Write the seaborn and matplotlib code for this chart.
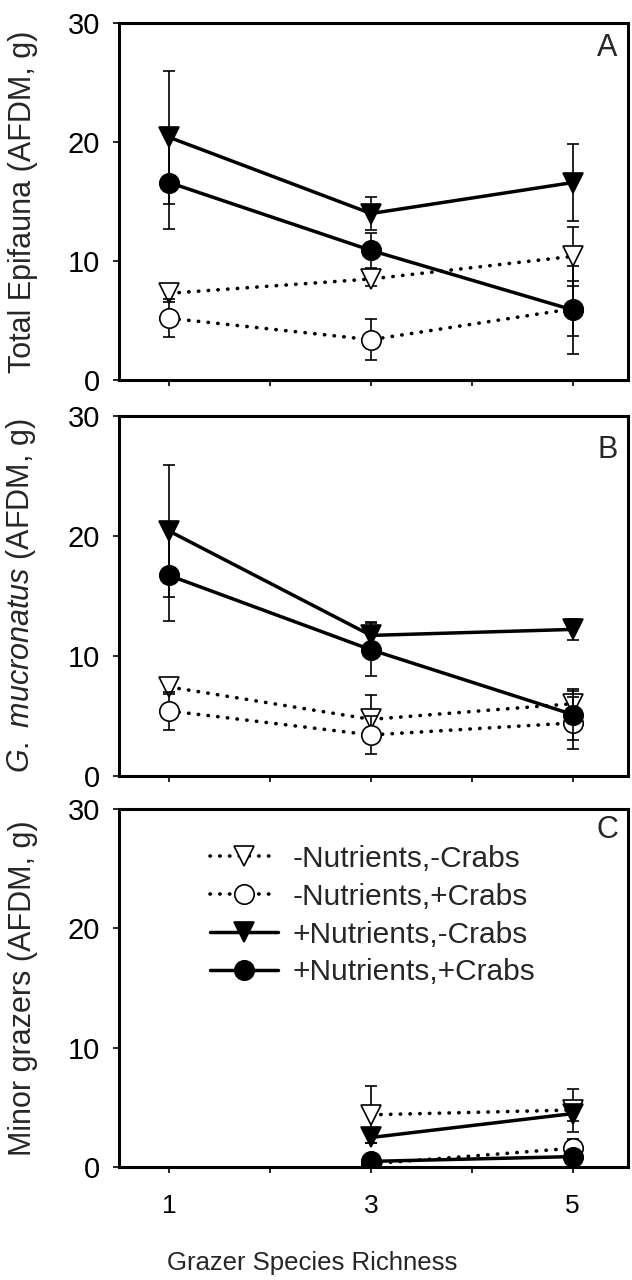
import numpy as np
import matplotlib
matplotlib.use("Agg")
import matplotlib.pyplot as plt
import seaborn as sns
from matplotlib.lines import Line2D

# Data (means and error bars)
richness = [1, 3, 5]
nan = np.nan

a_nn = [7.3, 8.5, 10.4]
a_nn_err = [0.7, 0.6, 2.5]
a_nc = [5.2, 3.4, 6.0]
a_nc_err = [1.6, 1.7, 2.3]
a_pn = [20.4, 14.0, 16.6]
a_pn_err = [5.6, 1.4, 3.2]
a_pc = [16.6, 10.9, 5.9]
a_pc_err = [3.9, 1.5, 3.7]

b_nn = [7.4, 4.7, 6.0]
b_nn_err = [0.6, 2.0, 1.1]
b_nc = [5.4, 3.4, 4.4]
b_nc_err = [1.6, 1.6, 2.2]
b_pn = [20.4, 11.7, 12.2]
b_pn_err = [5.5, 1.1, 0.9]
b_pc = [16.7, 10.5, 5.1]
b_pc_err = [3.8, 2.2, 2.1]

c_nn = [nan, 4.4, 4.8]
c_nn_err = [nan, 2.4, 1.8]
c_nc = [nan, 0.3, 1.6]
c_nc_err = [nan, 0.3, 0.8]
c_pn = [nan, 2.5, 4.5]
c_pn_err = [nan, 0.5, 0.6]
c_pc = [nan, 0.5, 0.9]
c_pc_err = [nan, 0.3, 0.4]

labels = ["-Nutrients,-Crabs", "-Nutrients,+Crabs", "+Nutrients,-Crabs", "+Nutrients,+Crabs"]
y_ticks = [0, 10, 20, 30]
x_ticks = [1, 2, 3, 4, 5]
x_ticklabels = ["1", "", "3", "", "5"]

sns.set_style("ticks")
plt.rcParams["font.family"] = ["Liberation Sans", "DejaVu Sans"]
plt.rcParams["mathtext.fontset"] = "custom"
plt.rcParams["mathtext.it"] = "Liberation Sans:italic"
plt.rcParams["mathtext.rm"] = "Liberation Sans"

DOT = (0, (0.1, 2.6))
styles = [
    dict(marker="v", mfc="white", ls=DOT, lw=2.6),
    dict(marker="o", mfc="white", ls=DOT, lw=2.6),
    dict(marker="v", mfc="black", ls="-", lw=2.5),
    dict(marker="o", mfc="black", ls="-", lw=2.5),
]

fig = plt.figure(figsize=(6.32, 12.8), dpi=100)
boxes = [
    [0.188, 0.703, 0.806, 0.279],
    [0.188, 0.394, 0.806, 0.281],
    [0.188, 0.088, 0.806, 0.280],
]
panels = [
    ([a_nn, a_nc, a_pn, a_pc], [a_nn_err, a_nc_err, a_pn_err, a_pc_err],
     "Total Epifauna (AFDM, g)", "A", 0.972),
    ([b_nn, b_nc, b_pn, b_pc], [b_nn_err, b_nc_err, b_pn_err, b_pc_err],
     r"$\it{G.\ mucronatus}$ (AFDM, g)", "B", 0.948),
    ([c_nn, c_nc, c_pn, c_pc], [c_nn_err, c_nc_err, c_pn_err, c_pc_err],
     "Minor grazers (AFDM, g)", "C", 0.983),
]

for i, (box, (series, errs, ylab, tag, tag_y)) in enumerate(zip(boxes, panels)):
    ax = fig.add_axes(box)
    for k, (vals, err, st) in enumerate(zip(series, errs, styles)):
        ax.errorbar(richness, vals, yerr=err, fmt="none", ecolor="black",
                    elinewidth=1.2, capsize=4, capthick=1.2, zorder=2 + k)
        sns.lineplot(x=richness, y=vals, ax=ax, color="black", marker=st["marker"],
                     markersize=14, markerfacecolor=st["mfc"], markeredgecolor="black",
                     markeredgewidth=1.2, linestyle=st["ls"], linewidth=st["lw"],
                     dash_capstyle="round", zorder=3 + k)
    ax.set_xlim(0.5, 5.55)
    ax.set_ylim(0, 30)
    ax.set_xticks(x_ticks)
    ax.set_yticks(y_ticks)
    if i == 2:
        ax.set_xticklabels(x_ticklabels)
    else:
        ax.set_xticklabels([])
    ax.tick_params(axis="both", direction="out", length=4.5, width=1.2, colors="black")
    ax.tick_params(axis="y", labelsize=21, pad=9)
    ax.tick_params(axis="x", labelsize=19, pad=15)
    for sp in ax.spines.values():
        sp.set_visible(True)
        sp.set_linewidth(2.2)
        sp.set_color("black")
    ax.set_ylabel(ylab, fontsize=22)
    ax.yaxis.set_label_coords(-0.159, 0.5)
    ax.set_xlabel("")
    ax.text(0.959, tag_y, tag, transform=ax.transAxes, ha="center", va="top",
            fontsize=22)
    if i == 2:
        handles = [
            Line2D([], [], color="black", marker=st["marker"], markersize=14,
                   markerfacecolor=st["mfc"], markeredgewidth=1.2,
                   linestyle=st["ls"], linewidth=st["lw"], dash_capstyle="round")
            for st in styles
        ]
        ax.legend(handles, labels, loc="upper left", bbox_to_anchor=(0.179, 0.90),
                  frameon=False, fontsize=21.5, handlelength=2.27, handletextpad=0.5,
                  labelspacing=0.33, borderpad=0, borderaxespad=0)

fig.text(0.494, 0.0133, "Grazer Species Richness", ha="center", va="center",
         fontsize=18.5)

fig.savefig("out.png", dpi=100)
